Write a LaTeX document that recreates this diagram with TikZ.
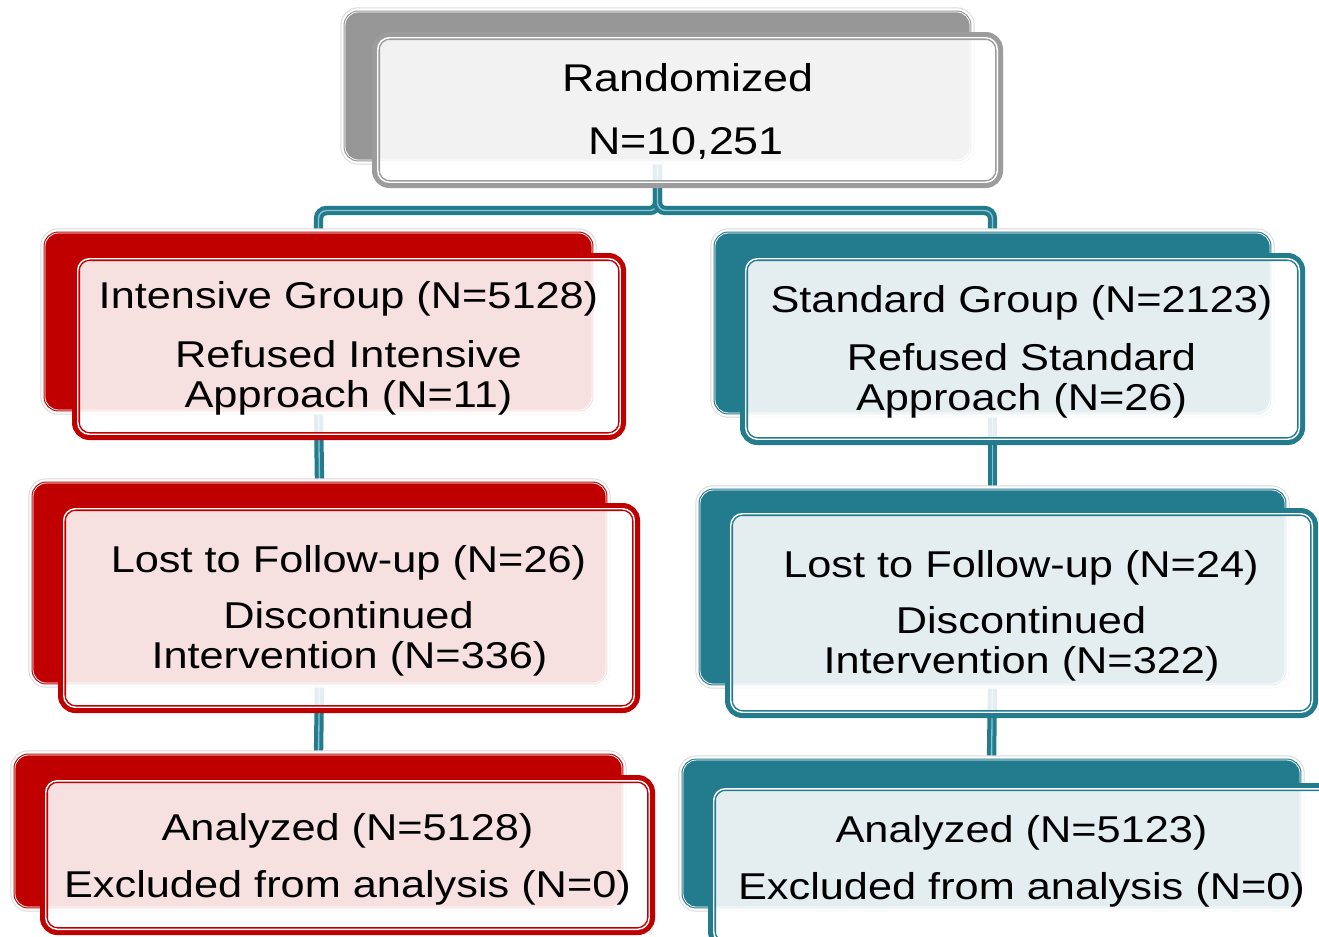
\documentclass[tikz,border=0pt]{standalone}
\usepackage{fontspec}
\setmainfont{Liberation Sans}[FakeStretch=1.16]
\usetikzlibrary{fit,backgrounds}
\definecolor{cred}{HTML}{C00000}
\definecolor{cteal}{HTML}{237B8E}
\definecolor{cgray}{HTML}{969696}
\definecolor{cgrayb}{HTML}{9C9C9C}
\definecolor{clight}{HTML}{8FC3CF}
\tikzset{
  backbox/.style={rectangle, rounded corners=10pt, inner sep=0pt, fill=#1, draw=#1,
    double=white, double distance=0.6pt, line width=0.8pt,
    preaction={draw=black!15, line width=7pt},
    preaction={draw=white, line width=5.5pt}},
  frontbx/.style={rectangle, rounded corners=10pt, inner sep=0pt, fill=white,
    fill opacity=0.88, draw=#1, draw opacity=1, line width=6pt},
  innerline/.style={rectangle, rounded corners=8.7pt, inner sep=0pt,
    draw=white, line width=1.1pt},
  conn/.style={draw=cteal, line width=3pt, double=clight, double distance=1pt,
    rounded corners=6pt},
  txt/.style={anchor=base, inner sep=0pt, font=\fontsize{28}{30}\selectfont},
  toptxt/.style={anchor=base, inner sep=0pt, font=\fontsize{29}{32}\selectfont}
}
% #1 name, #2 colour, #3-#6 outer edge x1,y1,x2,y2 (px)
\newcommand\mkfront[6]{%
  \pgfmathsetmacro\fax{#3+4}\pgfmathsetmacro\fay{#4+4}%
  \pgfmathsetmacro\fbx{#5-4}\pgfmathsetmacro\fby{#6-4}%
  \node[frontbx=#2, fit={(\fax,\fay) (\fbx,\fby)}] (#1) {};
  \pgfmathsetmacro\fax{#3+5.75}\pgfmathsetmacro\fay{#4+5.75}%
  \pgfmathsetmacro\fbx{#5-5.75}\pgfmathsetmacro\fby{#6-5.75}%
  \node[innerline, fit={(\fax,\fay) (\fbx,\fby)}] (#1i) {};
}
\begin{document}
\begin{tikzpicture}[x=0.75pt, y=-0.75pt]
\useasboundingbox (0,0) rectangle (1319,936);
% back boxes
\node[backbox=cgray, fit={(345,12) (970,160)}] (tb) {};
\node[backbox=cred, fit={(45,233) (592,410)}] (l1b) {};
\node[backbox=cred, fit={(33,483) (606,683)}] (l2b) {};
\node[backbox=cred, fit={(15,755) (622,907)}] (l3b) {};
\node[backbox=cteal, fit={(715,233) (1270,413)}] (r1b) {};
\node[backbox=cteal, fit={(700,490) (1285,684)}] (r2b) {};
\node[backbox=cteal, fit={(683,760) (1300,907)}] (r3b) {};
% front boxes
\mkfront{tf}{cgrayb}{372}{32}{1003}{188}
\mkfront{l1f}{cred}{72}{253}{626}{440}
\mkfront{l2f}{cred}{58}{503}{640}{713}
\mkfront{l3f}{cred}{40}{775}{655}{935}
\mkfront{r1f}{cteal}{740}{253}{1305}{445}
\mkfront{r2f}{cteal}{725}{508}{1318}{718}
\mkfront{r3f}{cteal}{708}{783}{1339}{949}
% texts
\node[toptxt] (t1) at (688,91) {Randomized};
\node[toptxt] (t2) at (686,154) {N=10,251};
\node[txt] (a1) at (348.5,308) {Intensive Group (N=5128)};
\node[txt] (a2) at (348.5,367) {Refused Intensive};
\node[txt] (a3) at (348.5,407) {Approach (N=11)};
\node[txt] (b1) at (1021.5,312) {Standard Group (N=2123)};
\node[txt] (b2) at (1021.5,370) {Refused Standard};
\node[txt] (b3) at (1021.5,410) {Approach (N=26)};
\node[txt] (a4) at (348.5,572) {Lost to Follow-up (N=26)};
\node[txt] (a5) at (348.5,628) {Discontinued};
\node[txt] (a6) at (349.5,668) {Intervention (N=336)};
\node[txt] (b4) at (1021,577) {Lost to Follow-up (N=24)};
\node[txt] (b5) at (1021,633) {Discontinued};
\node[txt] (b6) at (1021.5,673) {Intervention (N=322)};
\node[txt] (a7) at (347.5,840) {Analyzed (N=5128)};
\node[txt] (a8) at (347.5,897) {Excluded from analysis (N=0)};
\node[txt] (b7) at (1021.5,842) {Analyzed (N=5123)};
\node[txt] (b8) at (1021.5,899) {Excluded from analysis (N=0)};
% connectors behind
\begin{pgfonlayer}{background}
\fill[white] (0,0) rectangle (1319,936);
\draw[conn] (tb.south) -- ++(0,50) -| (l1b.north);
\draw[conn] (tb.south) -- ++(0,50) -| (r1b.north);
\draw[conn] (l1b.south) -- (l2b.north);
\draw[conn] (l2b.south) -- (l3b.north);
\draw[conn] (r1b.south) -- (r2b.north);
\draw[conn] (r2b.south) -- (r3b.north);
\end{pgfonlayer}
\end{tikzpicture}
\end{document}
